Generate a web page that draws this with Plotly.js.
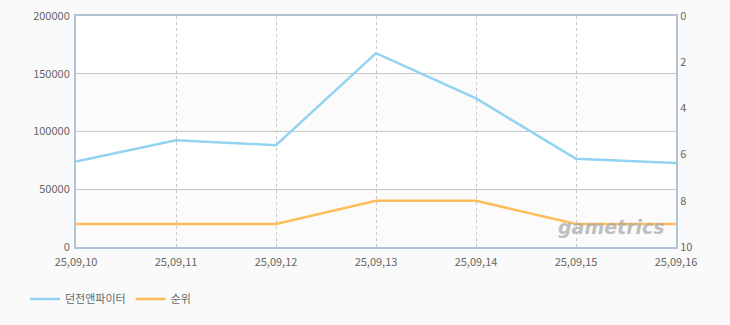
<!DOCTYPE html>
<html>
<head>
<meta charset="utf-8">
<script src="https://cdn.plot.ly/plotly-3.0.1.min.js"></script>
<style>html,body{margin:0;padding:0;background:#fafafa;}</style>
</head>
<body>
<div id="chart" style="width:730px;height:325px;"></div>
<script>
const dates = ["25,09,10","25,09,11","25,09,12","25,09,13","25,09,14","25,09,15","25,09,16"];
const users = [74000, 92500, 88200, 167800, 128700, 76400, 72700];
const rank = [9, 9, 9, 8, 8, 9, 9];
const seriesNames = ["던전앤파이터", "순위"];

const font = {family: "Noto Sans CJK KR, DejaVu Sans, sans-serif", size: 11, color: "#666"};
const axisLine = "#b2c3d6";

const traces = [
  {x: dates, y: users, type: "scatter", mode: "lines", name: seriesNames[0],
   line: {color: "#92d2f2", width: 2.5}, yaxis: "y"},
  {x: dates, y: rank, type: "scatter", mode: "lines", name: seriesNames[1],
   line: {color: "#ffbd5a", width: 2.5}, yaxis: "y2"}
];

const layout = {
  width: 730, height: 325,
  margin: {l: 76, r: 54, t: 16, b: 76},
  paper_bgcolor: "#fafafa",
  plot_bgcolor: "#ffffff",
  font: font,
  showlegend: true,
  legend: {orientation: "h", x: -0.085, xanchor: "left", y: -0.225, yanchor: "middle",
           font: {family: font.family, size: 11, color: "#666"}, itemwidth: 30, bgcolor: "rgba(0,0,0,0)"},
  xaxis: {
    type: "category", range: [0, 6], showgrid: true, gridcolor: "#c8c8c8", griddash: "3px,3px", gridwidth: 1,
    showline: true, linecolor: axisLine, linewidth: 2, mirror: true,
    ticks: "", tickfont: font, zeroline: false, ticklabelstandoff: 4
  },
  yaxis: {
    range: [0, 200000], dtick: 50000, tickformat: "d", showgrid: true, gridcolor: "#c8c8c8",
    showline: true, linecolor: axisLine, linewidth: 2, ticks: "", tickfont: font, zeroline: false,
    ticklabelstandoff: 2
  },
  yaxis2: {
    range: [10, 0], dtick: 2, overlaying: "y", side: "right", showgrid: false,
    showline: true, linecolor: axisLine, linewidth: 2, ticks: "", tickfont: font, zeroline: false
  },
  shapes: [
    {type: "rect", xref: "paper", yref: "y", x0: 0, x1: 1, y0: 100000, y1: 150000,
     fillcolor: "#fbfbfb", line: {width: 0}, layer: "below"},
    {type: "rect", xref: "paper", yref: "y", x0: 0, x1: 1, y0: 0, y1: 50000,
     fillcolor: "#fbfbfb", line: {width: 0}, layer: "below"}
  ],
  annotations: [
    {xref: "paper", yref: "paper", x: 0.985, y: 0.085, xanchor: "right", yanchor: "middle",
     text: "<b><i>gametrics</i></b>", showarrow: false,
     font: {family: "DejaVu Sans, sans-serif", size: 19, color: "rgba(170,170,170,0.75)"}}
  ]
};

Plotly.newPlot("chart", traces, layout, {displayModeBar: false, staticPlot: true});
</script>
</body>
</html>
